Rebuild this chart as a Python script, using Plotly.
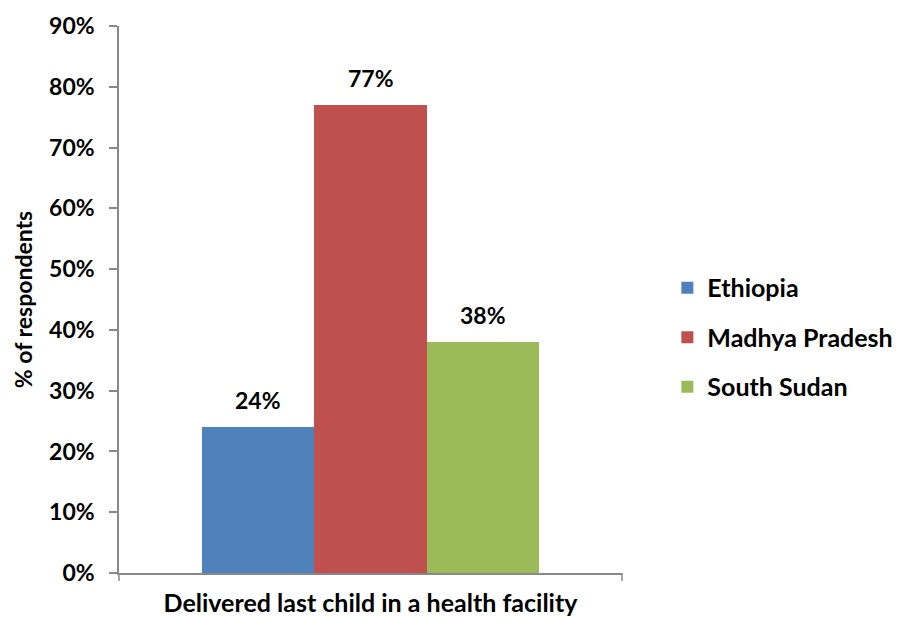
import plotly.graph_objects as go

regions = ["Ethiopia", "Madhya Pradesh", "South Sudan"]
shares = [0.24, 0.77, 0.38]
colors = ["#4F81BD", "#C0504D", "#9BBB59"]
x_title = "Delivered last child in a health facility"
tick_vals = [i / 10 for i in range(10)]
tick_text = [f"{i * 10}%" for i in range(10)]

font_family = "Lato, 'Open Sans', sans-serif"
bold = dict(family=font_family, color="black", weight="bold")
axis_grey = "#888888"
fs = 23

fig = go.Figure()
for name, val, col in zip(regions, shares, colors):
    fig.add_trace(go.Bar(
        x=[name], y=[val], name=name, marker_color=col,
        marker_line_width=0, width=1.0, legendgroup=name,
    ))
    # value label floating above each bar
    fig.add_annotation(
        x=name, y=val, xref="x", yref="y", text=f"{round(val * 100)}%",
        showarrow=False, yanchor="bottom", yshift=11,
        font=dict(size=fs, **bold),
    )

# short ticks marking the two ends of the category axis
for xp in (0, 1):
    fig.add_shape(type="line", xref="paper", yref="paper",
                  x0=xp, x1=xp, ysizemode="pixel", yanchor=0, y0=0, y1=-8,
                  line=dict(color=axis_grey, width=1.5))

fig.update_layout(
    width=897, height=617,
    margin=dict(l=119, r=275, t=26, b=44, autoexpand=False),
    barmode="overlay", bargap=0,
    plot_bgcolor="white", paper_bgcolor="white",
    font=dict(size=fs, **bold),
    showlegend=True,
    legend=dict(xref="container", yref="container",
                x=0.744, y=0.453, xanchor="left", yanchor="middle",
                font=dict(size=25, **bold),
                tracegroupgap=14, itemwidth=30),
)
fig.update_yaxes(
    range=[0, 0.9], tickvals=tick_vals + [0.9], ticktext=tick_text + ["90%"],
    showgrid=False, zeroline=False, automargin=False,
    showline=True, linecolor=axis_grey, linewidth=1.5,
    ticks="outside", ticklen=8, tickcolor=axis_grey, tickwidth=1.5,
    ticklabelstandoff=10,
    tickfont=dict(size=fs, **bold),
    title=dict(text="% of respondents", font=dict(size=fs, **bold), standoff=10),
)
fig.update_xaxes(
    range=[-1.24, 3.24], automargin=False,
    showgrid=False, showline=True, linecolor=axis_grey, linewidth=1.5,
    ticks="", showticklabels=False,
    title=dict(text=x_title, font=dict(size=25, **bold), standoff=28),
)
fig.write_html("out.html")
